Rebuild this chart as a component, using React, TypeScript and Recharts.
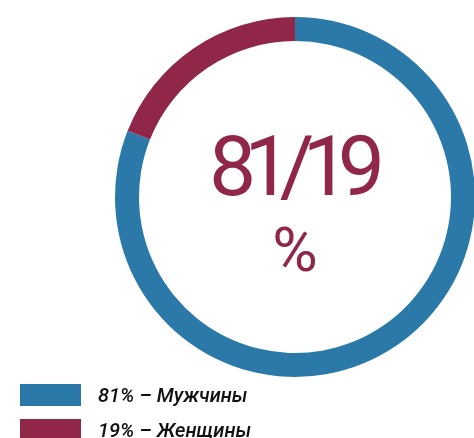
import { PieChart, Pie, Cell, Legend, Label } from "recharts";

const categories = ["Мужчины", "Женщины"];
const shares = [81, 19];
const colors = ["#2b79a8", "#902748"];

const data = categories.map((name, i) => ({ name, value: shares[i] }));

const CX = 295;
const CY = 197;

function CenterText() {
  return (
    <g>
      <text
        x={CX + 2}
        y={195}
        textAnchor="middle"
        fill="#902748"
        textLength={176}
        lengthAdjust="spacing"
        style={{ fontFamily: "Roboto, sans-serif", fontSize: 84, fontWeight: 400 }}
      >
        {`${shares[0]}/${shares[1]}`}
      </text>
      <text
        x={CX}
        y={271}
        textAnchor="middle"
        fill="#902748"
        style={{ fontFamily: "Roboto, sans-serif", fontSize: 62, fontWeight: 400 }}
      >
        %
      </text>
    </g>
  );
}

function LegendList() {
  return (
    <div>
      {data.map((d, i) => (
        <div key={d.name} style={{ display: "flex", alignItems: "center", height: 35 }}>
          <div style={{ width: 61, height: 22, background: colors[i], marginRight: 17 }} />
          <span
            style={{
              fontFamily: "Roboto, sans-serif",
              fontStyle: "italic",
              fontSize: 20,
              fontWeight: 500,
              color: "#111",
            }}
          >
            {`${d.value}% – ${d.name}`}
          </span>
        </div>
      ))}
    </div>
  );
}

export default function App() {
  return (
    <div style={{ position: "fixed", left: 0, top: 0, width: 474, height: 438, background: "#fff" }}>
      <PieChart width={474} height={438} margin={{ top: 0, right: 0, bottom: 0, left: 0 }}>
        <Pie
          data={data}
          dataKey="value"
          nameKey="name"
          cx={CX}
          cy={CY}
          innerRadius={156}
          outerRadius={180}
          startAngle={90}
          endAngle={-270}
          stroke="none"
          isAnimationActive={false}
        >
          {data.map((d, i) => (
            <Cell key={d.name} fill={colors[i]} />
          ))}
          <Label content={() => <CenterText />} position="center" />
        </Pie>
        <Legend
          content={() => <LegendList />}
          wrapperStyle={{ position: "absolute", left: 20, top: 377, width: 300 }}
        />
      </PieChart>
    </div>
  );
}
